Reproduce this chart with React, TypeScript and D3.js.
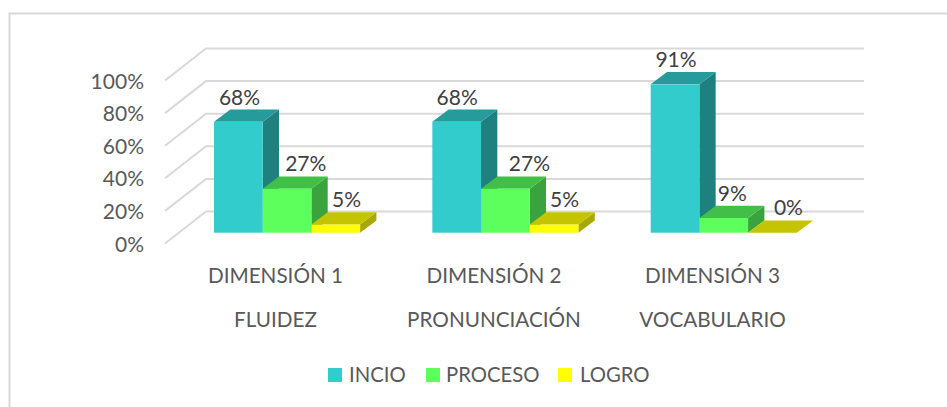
import React from "react";
import * as d3 from "d3";

const categories = ["DIMENSIÓN 1", "DIMENSIÓN 2", "DIMENSIÓN 3"];
const subLabels = ["FLUIDEZ", "PRONUNCIACIÓN", "VOCABULARIO"];
const seriesNames = ["INCIO", "PROCESO", "LOGRO"];
const incio = [68, 68, 91];
const proceso = [27, 27, 9];
const logro = [5, 5, 0];
const yTicks = [0, 20, 40, 60, 80, 100];
const seriesValues = [incio, proceso, logro];
const front = ["#33CCCC", "#5CFF5C", "#FFFF00"];
const top = ["#269B9B", "#42BF47", "#C4C400"];
const side = ["#1F8080", "#3AA33D", "#A8A800"];
// hand-placed data-label nudges in the original, per group then series
const labelNudge = [
  [1.2, 18.7, 10.8],
  [0.5, 24, 10.5],
  [1, 8.5, 16],
];
const legendSwatchX = [328, 426, 558];
const legendTextX = [349, 446, 580];

const FONT = "Lato, 'Open Sans', sans-serif";
const DX = 16.3;
const DY = 12.3;

export default function App() {
  const y = d3.scaleLinear().domain([0, 100]).range([232.7, 69.7]);
  const yAxisFront = d3.scaleLinear().domain([0, 100]).range([243.5, 80.5]);
  const yWall = d3.scaleLinear().domain([0, 100]).range([211.5, 48.5]);
  const xGroup = d3.scaleBand<number>().domain([0, 1, 2]).range([214, 869]).paddingInner(0).paddingOuter(0);
  const bw = 48.7;
  const labelCx = [275.5, 494, 712.5];
  return (
    <svg
      width={947}
      height={407}
      style={{ position: "absolute", left: 0, top: 0, background: "#fff", fontFamily: FONT }}
    >
      <path d="M9.5,407 V13.5 H947" fill="none" stroke="#D9D9D9" strokeWidth={2} />
      {yTicks.map((t) => (
        <path
          key={t}
          d={`M165,${yAxisFront(t)} L206,${yWall(t)} H864`}
          fill="none"
          stroke="#D9D9D9"
          strokeWidth={2}
        />
      ))}
      {yTicks.map((t) => (
        <text key={t} x={144} y={yAxisFront(t) + 8} textAnchor="end" fontSize={21} fill="#595959">
          {t}%
        </text>
      ))}
      {categories.map((_, g) => {
        const gx = xGroup(g)!;
        return seriesValues.map((vals, s) => {
          const v = vals[g];
          const x0 = gx + s * bw;
          const x1 = x0 + bw;
          const yt = y(v);
          const yb = y(0);
          return (
            <g key={`${g}-${s}`}>
              <path d={`M${x1},${yt} L${x1 + DX},${yt - DY} V${yb - DY} L${x1},${yb} Z`} fill={side[s]} />
              <path d={`M${x0},${yt} L${x0 + DX},${yt - DY} H${x1 + DX} L${x1},${yt} Z`} fill={top[s]} />
              <rect x={x0} y={yt} width={bw} height={yb - yt} fill={front[s]} />
              <text
                x={x0 + bw / 2 + labelNudge[g][s]}
                y={yt - 17.3}
                textAnchor="middle"
                fontSize={21}
                fill="#404040"
              >
                {v}%
              </text>
            </g>
          );
        });
      })}
      {categories.map((c, i) => (
        <text key={c} x={labelCx[i]} y={283.3} textAnchor="middle" fontSize={20.7} fill="#595959">
          {c}
        </text>
      ))}
      {subLabels.map((c, i) => (
        <text key={c} x={labelCx[i]} y={327.3} textAnchor="middle" fontSize={20.7} fill="#595959">
          {c}
        </text>
      ))}
      {seriesNames.map((n, i) => (
        <g key={n}>
          <rect x={legendSwatchX[i]} y={368} width={14} height={14} fill={front[i]} />
          <text x={legendTextX[i]} y={382} fontSize={20.3} fill="#595959">
            {n}
          </text>
        </g>
      ))}
    </svg>
  );
}
